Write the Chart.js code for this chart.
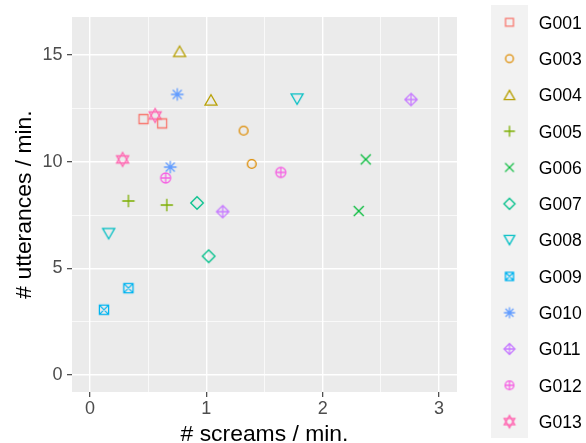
<!DOCTYPE html>
<html>
<head>
<script src="https://cdn.jsdelivr.net/npm/chart.js@4"></script>
<style>
  body { margin: 0; background: #ffffff; }
  canvas { display: block; }
</style>
</head>
<body>
<canvas id="plot" width="586" height="443"></canvas>
<script>
  // data, two sessions per group
  const groups = ['G001', 'G003', 'G004', 'G005', 'G006', 'G007', 'G008', 'G009', 'G010', 'G011', 'G012', 'G013'];
  const screams = [
    [0.46, 0.62], [1.32, 1.39], [0.77, 1.04], [0.33, 0.66], [2.37, 2.31], [0.92, 1.02],
    [1.78, 0.16], [0.33, 0.12], [0.75, 0.69], [2.76, 1.14], [0.65, 1.64], [0.56, 0.28]
  ];
  const utterances = [
    [12.0, 11.8], [11.46, 9.9], [15.18, 12.9], [8.16, 7.97], [10.11, 7.69], [8.07, 5.57],
    [12.94, 6.63], [4.07, 3.06], [13.16, 9.75], [12.92, 7.66], [9.24, 9.5], [12.17, 10.11]
  ];
  const xTicks = [0, 0.5, 1, 1.5, 2, 2.5, 3];
  const yTicks = [0, 2.5, 5, 7.5, 10, 12.5, 15];

  const colors = ['#F8766D', '#DE8C00', '#B79F00', '#7CAE00', '#00BA38', '#00C08B',
                  '#00BFC4', '#00B4F0', '#619CFF', '#C77CFF', '#F564E3', '#FF64B0'];
  const shapes = ['square', 'circle', 'triangle', 'plus', 'cross', 'diamond',
                  'triangleDown', 'squareCross', 'asterisk', 'diamondPlus', 'circlePlus', 'hexagram'];

  const FONT = '"Liberation Sans", Arial, Helvetica, sans-serif';

  function line(g, x1, y1, x2, y2) { g.moveTo(x1, y1); g.lineTo(x2, y2); }

  // ggplot-like open symbols drawn on a small canvas, used as pointStyle
  function makeIcon(kind, color, k) {
    const c = document.createElement('canvas');
    c.width = 20; c.height = 20;
    const g = c.getContext('2d');
    g.translate(10, 10);
    g.strokeStyle = color;
    g.lineWidth = 1.3;
    g.beginPath();
    switch (kind) {
      case 'square': g.rect(-4.5 * k, -4.5 * k, 9 * k, 9 * k); break;
      case 'circle': g.arc(0, 0, 4.4 * k, 0, 2 * Math.PI); break;
      case 'triangle':
        g.moveTo(0, -5.2 * k); g.lineTo(6 * k, 5.2 * k); g.lineTo(-6 * k, 5.2 * k); g.closePath(); break;
      case 'triangleDown':
        g.moveTo(0, 5.2 * k); g.lineTo(6 * k, -5.2 * k); g.lineTo(-6 * k, -5.2 * k); g.closePath(); break;
      case 'plus':
        line(g, -6.2 * k, 0, 6.2 * k, 0); line(g, 0, -6.2 * k, 0, 6.2 * k); break;
      case 'cross':
        line(g, -5 * k, -5 * k, 5 * k, 5 * k); line(g, -5 * k, 5 * k, 5 * k, -5 * k); break;
      case 'diamond':
        g.moveTo(0, -6.3 * k); g.lineTo(6.3 * k, 0); g.lineTo(0, 6.3 * k); g.lineTo(-6.3 * k, 0); g.closePath(); break;
      case 'squareCross':
        g.rect(-4.6 * k, -4.6 * k, 9.2 * k, 9.2 * k);
        line(g, -4.6 * k, -4.6 * k, 4.6 * k, 4.6 * k); line(g, -4.6 * k, 4.6 * k, 4.6 * k, -4.6 * k); break;
      case 'asterisk':
        line(g, -6.3 * k, 0, 6.3 * k, 0); line(g, 0, -6.3 * k, 0, 6.3 * k);
        line(g, -4.5 * k, -4.5 * k, 4.5 * k, 4.5 * k); line(g, -4.5 * k, 4.5 * k, 4.5 * k, -4.5 * k); break;
      case 'diamondPlus':
        g.moveTo(0, -6.2 * k); g.lineTo(6.2 * k, 0); g.lineTo(0, 6.2 * k); g.lineTo(-6.2 * k, 0); g.closePath();
        line(g, -6.2 * k, 0, 6.2 * k, 0); line(g, 0, -6.2 * k, 0, 6.2 * k); break;
      case 'circlePlus':
        g.arc(0, 0, 5 * k, 0, 2 * Math.PI);
        line(g, -5 * k, 0, 5 * k, 0); line(g, 0, -5 * k, 0, 5 * k); break;
      case 'hexagram':
        g.moveTo(0, -7 * k); g.lineTo(6 * k, 3.5 * k); g.lineTo(-6 * k, 3.5 * k); g.closePath();
        g.moveTo(0, 7 * k); g.lineTo(6 * k, -3.5 * k); g.lineTo(-6 * k, -3.5 * k); g.closePath(); break;
    }
    g.stroke();
    return c;
  }

  const pointIcons = shapes.map((s, i) => makeIcon(s, colors[i], 1));
  const legendIcons = shapes.map((s, i) => makeIcon(s, colors[i], 0.88));

  const datasets = groups.map((name, i) => ({
    label: name,
    data: screams[i].map((x, j) => ({ x: x, y: utterances[i][j] })),
    pointStyle: pointIcons[i],
    pointRadius: 6,
    showLine: false
  }));

  const isMajor = v => Number.isInteger(v);

  const panelBg = {
    id: 'panelBg',
    beforeDraw(chart) {
      const a = chart.chartArea, g = chart.ctx;
      g.save();
      g.fillStyle = '#EBEBEB';
      g.fillRect(a.left, a.top, a.right - a.left, a.bottom - a.top);
      g.restore();
    }
  };

  const sideLegend = {
    id: 'sideLegend',
    afterDraw(chart) {
      const g = chart.ctx;
      const x0 = chart.chartArea.right + 34;
      g.save();
      g.fillStyle = '#F2F2F2';
      g.fillRect(x0, 5, 37, 433);
      g.font = '17.6px ' + FONT;
      g.fillStyle = '#000000';
      g.textAlign = 'left';
      g.textBaseline = 'alphabetic';
      groups.forEach((name, i) => {
        const cy = 22.3 + i * 36.3;
        const ic = legendIcons[i];
        g.drawImage(ic, x0 + 18.5 - ic.width / 2, cy - ic.height / 2);
        g.fillText(name, x0 + 47.7, cy + 6.3);
      });
      g.restore();
    }
  };

  const gridCfg = {
    color: '#FFFFFF',
    lineWidth: c => (c.tick && isMajor(c.tick.value)) ? 1.4 : 0.7,
    tickColor: c => (c.tick && isMajor(c.tick.value)) ? '#333333' : 'rgba(0,0,0,0)',
    tickLength: 5,
    tickWidth: 1.1,
    drawTicks: true
  };

  new Chart(document.getElementById('plot'), {
    type: 'scatter',
    data: { datasets: datasets },
    options: {
      responsive: false,
      animation: false,
      layout: { padding: { top: 17, right: 129, left: 0, bottom: 0 } },
      plugins: { legend: { display: false }, tooltip: { enabled: false } },
      scales: {
        x: {
          type: 'linear',
          min: -0.155,
          max: 3.155,
          afterBuildTicks: s => { s.ticks = xTicks.map(v => ({ value: v })); },
          afterFit: s => { s.height = 51; },
          grid: gridCfg,
          border: { display: false },
          ticks: {
            autoSkip: false,
            maxRotation: 0,
            padding: 1,
            color: '#4D4D4D',
            font: { family: FONT, size: 18 },
            callback: v => isMajor(v) ? String(v) : ''
          },
          title: {
            display: true,
            text: '# screams / min.',
            color: '#000000',
            font: { family: FONT, size: 22.9, lineHeight: 0.73 },
            padding: 0
          }
        },
        y: {
          type: 'linear',
          min: -0.8,
          max: 16.79,
          afterBuildTicks: s => { s.ticks = yTicks.map(v => ({ value: v })); },
          afterFit: s => { s.width = 72; },
          grid: gridCfg,
          border: { display: false },
          ticks: {
            autoSkip: false,
            padding: 4.5,
            color: '#4D4D4D',
            font: { family: FONT, size: 18 },
            callback: v => isMajor(v) ? String(v) : ''
          },
          title: {
            display: true,
            text: '# utterances / min.',
            color: '#000000',
            font: { family: FONT, size: 22.9, lineHeight: 0.385 },
            padding: { top: 20.7, bottom: 0 }
          }
        }
      }
    },
    plugins: [panelBg, sideLegend]
  });
</script>
</body>
</html>
